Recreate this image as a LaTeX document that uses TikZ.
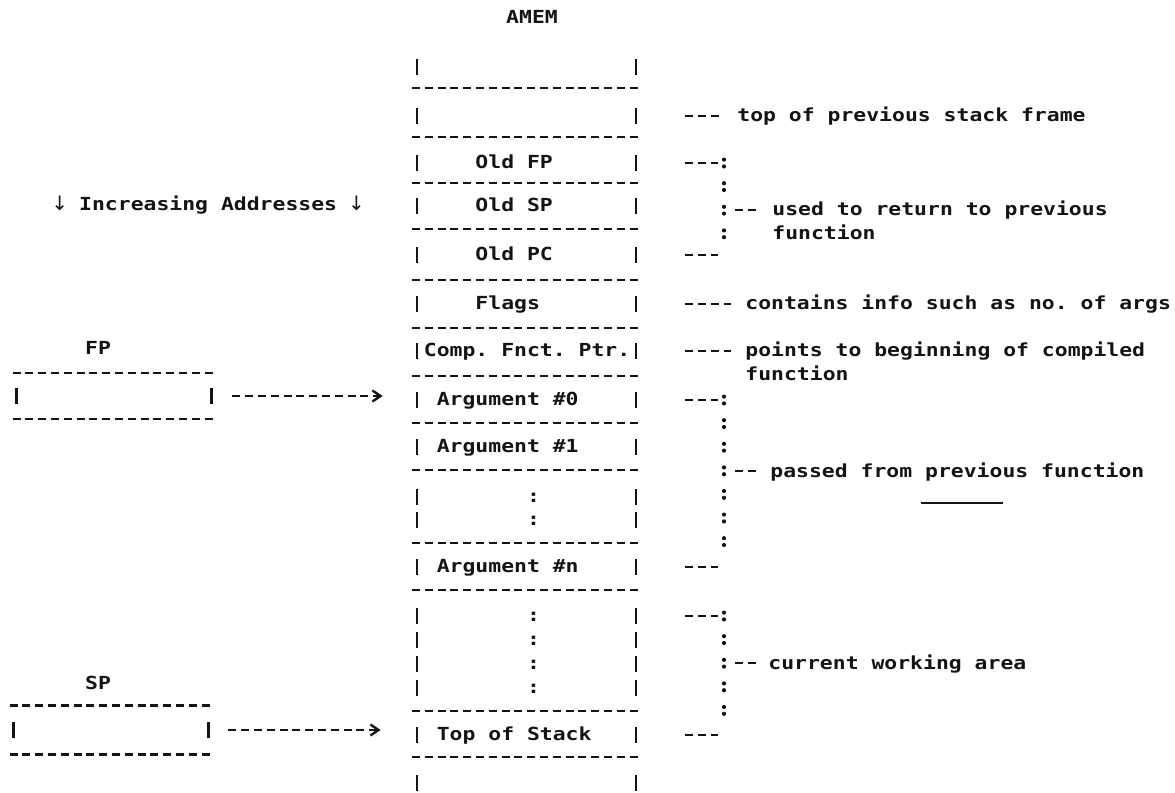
\documentclass[tikz,border=0pt]{standalone}
\usepackage{fontspec}
\usepackage{tikz}
\usetikzlibrary{arrows.meta}
\newfontfamily\typewfont[FakeStretch=1.19]{DejaVu Sans Mono}
\newfontfamily\arrowfont{DejaVu Sans}
\definecolor{ink}{RGB}{20,20,20}
\newlength{\chw}
\setlength{\chw}{6.449pt}
\newcommand{\downarr}{\makebox[\chw][c]{\arrowfont\mdseries\fontsize{10pt}{11.75pt}\selectfont ↓}}
\newcommand{\cellrow}[2]{\makebox[115pt][l]{\hspace*{#1\chw}#2}}

\begin{document}
\begin{tikzpicture}[x=0.5pt,y=-0.5pt,
  txt/.style={font=\typewfont\bfseries\fontsize{9pt}{11.75pt}\selectfont\frenchspacing,text=ink,inner sep=0pt,text height=7pt,text depth=2pt},
  cell/.style={txt},
  note/.style={txt,anchor=west,align=left},
  reg/.style={minimum width=101pt,inner sep=0pt},
  hyph/.style={draw=ink,line width=1.2pt,dash pattern=on 4pt off 2.4pt},
  bar/.style={draw=ink,line width=1.3pt},
  colons/.style={draw=ink,line width=2.1pt,line cap=round,dash pattern=on 0pt off 3.4pt on 0pt off 8.4pt},
  ptr/.style={hyph,-{Straight Barb[length=4pt,width=5.5pt,line width=1.2pt]}}]
\path[use as bounding box,fill=white] (0,0) rectangle (1175,793);

\node[txt] (amem) at (532,18) {AMEM};
\node[txt,anchor=west] (incr) at (53,205) {\downarr{} Increasing Addresses \downarr};

% the stack
\node[cell] (top) at (526,116) {\cellrow{0}{}};
\node[cell] (oldfp) at (526,163) {\cellrow{5}{Old FP}};
\node[cell] (oldsp) at (526,206) {\cellrow{5}{Old SP}};
\node[cell] (oldpc) at (526,255) {\cellrow{5}{Old PC}};
\node[cell] (flags) at (526,304) {\cellrow{5}{Flags}};
\node[cell] (comp) at (526,351) {\cellrow{1}{Comp. Fnct. Ptr.}};
\node[cell] (arg0) at (526,400) {\cellrow{2}{Argument \#0}};
\node[cell] (arg1) at (526,447) {\cellrow{2}{Argument \#1}};
\foreach \y [count=\i] in {497,520}
  \node[cell] (more\i) at (526,\y) {\cellrow{9}{:}};
\node[cell] (argn) at (526,567) {\cellrow{2}{Argument \#n}};
\foreach \y [count=\i] in {616,640,664,688}
  \node[cell] (work\i) at (526,\y) {\cellrow{9}{:}};
\node[cell] (tos) at (526,735) {\cellrow{2}{Top of Stack}};

\foreach \y in {88,137,183,229,280,328,376,423,470,543,590,711,757}
  \draw[hyph] (412,\y) -- (641,\y);
\foreach \y in {67,116,163,206,255,304,351,400,447,497,520,567,616,640,664,688,735,783}
  \draw[bar] (417,\y-8) -- (417,\y+8) (636,\y-8) -- (636,\y+8);

% registers
\node[txt] (fpname) at (98,349) {FP};
\node[reg,minimum height=22.5pt] (fpreg) at (114,396) {};
\node[txt] (spname) at (98,684) {SP};
\node[reg,minimum height=24pt] (spreg) at (111,730) {};
\foreach \r in {fpreg,spreg} {
  \draw[hyph] (\r.north west) -- (\r.north east) (\r.south west) -- (\r.south east);
  \draw[bar] ([xshift=2pt,yshift=4pt]\r.west) -- ([xshift=2pt,yshift=-4pt]\r.west)
    ([xshift=-2pt,yshift=4pt]\r.east) -- ([xshift=-2pt,yshift=-4pt]\r.east);
}
\draw[ptr,shorten <=8.5pt,shorten >=14pt] (fpreg.east) -- (fpreg.east -| arg0.west);
\draw[ptr,shorten <=8pt,shorten >=15pt] (spreg.east) -- (spreg.east -| tos.west);

% notes
\node[note] (toplbl) at (737,116) {top of previous stack frame};
\node[note] (retlbl) at (772,234) {used to return to previous\\function};
\node[note] (flagslbl) at (745,304) {contains info such as no. of args};
\node[note] (complbl) at (745,375) {points to beginning of compiled\\function};
\node[note] (passlbl) at (770,472) {passed from previous function};
\node[note] (worklbl) at (768,664) {current working area};

\coordinate (retj) at (724,210);
\coordinate (passj) at (724,471);
\coordinate (workj) at (724,663);

\draw[hyph] (top.east) ++(44,0) -- ([xshift=-9.2pt]toplbl.west);
\draw[hyph] (flags.east) ++(44,0) -- ([xshift=-6.8pt]flagslbl.west);
\draw[hyph,shorten >=6.8pt] (comp.east) ++(44,0) -- (comp.east -| complbl.west);

\draw[colons] (724,159.6) -- (724,237.5);
\draw[hyph,shorten >=3pt] (oldfp.east) ++(44,0) -- (oldfp.east -| retj);
\draw[hyph,shorten <=5.5pt,shorten >=6pt] (retj) -- (retj -| retlbl.west);
\draw[hyph,shorten >=3pt] (oldpc.east) ++(44,0) -- (oldpc.east -| retj);

\draw[colons] (724,396.6) -- (724,545.5);
\draw[hyph,shorten >=3pt] (arg0.east) ++(44,0) -- (arg0.east -| passj);
\draw[hyph,shorten <=5.5pt,shorten >=5pt] (passj) -- (passj -| passlbl.west);
\draw[hyph,shorten >=3pt] (argn.east) ++(44,0) -- (argn.east -| passj);
\draw[ink,line width=1pt] (921,503) -- (1003,503);

\draw[colons] (724,612.6) -- (724,714);
\draw[hyph,shorten >=3pt] (work1.east) ++(44,0) -- (work1.east -| workj);
\draw[hyph,shorten <=5.5pt,shorten >=5pt] (workj) -- (workj -| worklbl.west);
\draw[hyph,shorten >=3pt] (tos.east) ++(44,0) -- (tos.east -| workj);
\end{tikzpicture}
\end{document}
